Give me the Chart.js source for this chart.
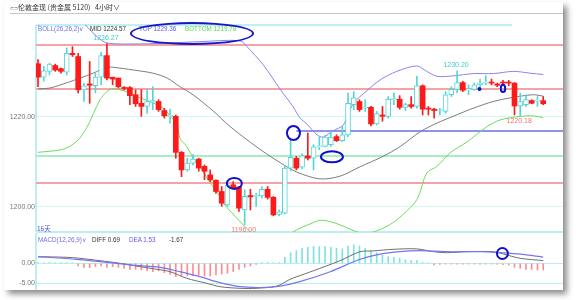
<!DOCTYPE html>
<html>
<head>
<meta charset="utf-8">
<script src="https://cdn.jsdelivr.net/npm/chart.js@4.4.0/dist/chart.umd.min.js"></script>
<style>
body{margin:0;background:#fff;width:576px;height:300px;overflow:hidden;position:relative;font-family:'Liberation Sans',Arial,sans-serif}
#frame{position:absolute;left:4px;top:2px;width:559px;height:288px;background:#fff;box-shadow:4px 4px 6px rgba(0,0,0,.45)}
#sep{position:absolute;left:10px;top:13px;width:553px;height:1px;background:#c8c8c8}
canvas{position:absolute;left:0;top:0}
.t{position:absolute;white-space:nowrap;font-size:6.3px;line-height:8px}
.cjk{font-family:'Noto Sans CJK SC','Liberation Sans',sans-serif;font-size:7px}
#oval{position:absolute;left:130px;top:22px;width:120px;height:19px;border:2px solid #1717c8;border-radius:50%}
</style>
</head>
<body>
<div id="frame"></div>
<div id="sep"></div>
<canvas id="price" width="576" height="300"></canvas>
<canvas id="macd" width="576" height="300"></canvas>

<span class="t" style="left:10px;top:4px;color:#555;font-size:5px">⊂⊃</span>
<span class="t cjk" style="left:18px;top:3px;color:#333">伦敦金现 (贵金属 5120)</span>
<span class="t cjk" style="left:95px;top:3px;color:#333">4小时∨</span>

<span class="t" style="left:38px;top:25px;color:#6f6fe6">BOLL(26,26,2)∨</span>
<span class="t" style="left:90px;top:25px;color:#333">MID 1224.57</span>
<span class="t" style="left:139px;top:25px;color:#5a5af0">TOP 1229.36</span>
<span class="t" style="left:185px;top:25px;color:#52d852">BOTTOM 1219.78</span>
<div id="oval"></div>

<span class="t cjk" style="left:37px;top:224px;color:#5050d0;font-size:6.5px">16天</span>

<span class="t" style="left:38px;top:236px;color:#6f6fe6">MACD(12,26,9)∨</span>
<span class="t" style="left:92px;top:236px;color:#333">DIFF 0.69</span>
<span class="t" style="left:129px;top:236px;color:#5a5af0">DEA 1.53</span>
<span class="t" style="left:169px;top:236px;color:#333">-1.67</span>

<script>
// candles, one per 4 hours
var opens  = [1231.8,1228.8,1230.1,1231.4,1230.7,1229.9,1234.1,1233.4,1226.0,1227.3,
              1226.9,1228.8,1233.6,1228.8,1228.6,1226.5,1226.5,1224.9,1223.0,1222.3,
              1223.3,1223.4,1221.4,1220.1,1220.1,1212.1,1208.2,1209.7,1210.6,1209.0,
              1207.1,1205.9,1203.4,1200.4,1204.9,1204.4,1199.3,1202.5,1202.3,1202.4,
              1203.9,1202.1,1198.3,1198.6,1208.6,1210.8,1208.8,1211.3,1210.8,1213.3,
              1213.4,1213.8,1215.6,1214.7,1216.0,1222.7,1223.4,1221.9,1222.1,1218.4,
              1220.4,1220.1,1223.8,1223.9,1222.1,1222.7,1222.3,1226.9,1221.9,1221.7,
              1221.4,1221.2,1224.9,1226.1,1227.6,1226.0,1226.1,1227.1,1227.5,1227.7,
              1227.3,1227.6,1227.6,1227.5,1222.4,1222.7,1223.6,1223.5,1223.6];
var highs  = [1232.7,1231.2,1231.9,1231.7,1230.8,1235.3,1235.6,1234.1,1227.5,1232.3,
              1229.7,1234.3,1236.27,1228.8,1228.6,1226.7,1226.7,1226.0,1226.0,1226.0,
              1226.7,1223.8,1221.9,1221.7,1220.4,1212.3,1210.8,1211.6,1210.8,1209.3,
              1208.2,1206.0,1204.5,1205.3,1205.6,1204.5,1203.8,1203.9,1203.0,1204.5,
              1204.5,1202.3,1199.3,1209.0,1215.0,1211.2,1211.8,1216.4,1213.8,1215.5,
              1215.8,1216.7,1216.0,1217.9,1225.3,1225.6,1223.8,1223.8,1222.3,1221.2,
              1222.3,1224.5,1225.3,1224.7,1223.0,1224.5,1229.0,1227.1,1222.3,1221.9,
              1221.9,1225.6,1226.7,1230.2,1227.9,1227.1,1227.5,1228.4,1229.1,1228.4,
              1227.5,1228.1,1228.1,1227.6,1225.3,1224.9,1223.8,1224.5,1224.5];
var lows   = [1226.7,1227.9,1229.3,1230.1,1229.7,1229.3,1233.4,1225.3,1223.4,1223.0,
              1225.3,1227.1,1228.2,1227.1,1226.4,1226.0,1222.7,1222.3,1220.1,1220.8,
              1221.6,1221.2,1219.7,1218.6,1210.8,1206.7,1207.9,1209.3,1207.9,1206.0,
              1205.6,1203.0,1200.1,1200.1,1204.0,1199.0,1196.0,1199.3,1200.1,1201.9,
              1201.7,1198.0,1198.0,1198.4,1208.0,1208.2,1208.4,1210.4,1208.2,1212.7,
              1213.3,1213.4,1214.5,1214.5,1215.6,1221.6,1221.2,1221.2,1218.0,1218.2,
              1219.0,1219.7,1222.7,1221.7,1221.4,1221.9,1221.9,1220.4,1220.4,1219.7,
              1220.4,1220.8,1224.5,1225.3,1225.6,1224.9,1225.9,1226.7,1227.1,1227.1,
              1226.7,1227.1,1226.9,1220.4,1220.18,1222.3,1222.9,1222.3,1222.7];
var closes = [1228.8,1230.2,1231.7,1230.4,1230.1,1234.1,1233.8,1226.0,1226.9,1227.0,
              1228.8,1233.6,1228.6,1228.4,1226.7,1226.3,1224.7,1222.9,1222.3,1223.4,
              1223.6,1221.6,1220.2,1220.2,1212.1,1208.2,1209.7,1210.6,1208.6,1207.9,
              1206.0,1203.4,1200.8,1204.9,1204.1,1199.7,1202.3,1202.2,1202.5,1203.9,
              1202.1,1198.2,1198.9,1208.6,1211.0,1208.6,1211.3,1210.8,1213.3,1213.4,
              1215.5,1215.5,1214.7,1216.0,1223.0,1224.2,1221.6,1222.1,1218.4,1220.7,
              1220.1,1223.9,1223.9,1222.1,1222.7,1222.3,1226.9,1221.7,1221.7,1221.4,
              1221.6,1224.9,1226.1,1227.6,1225.9,1226.1,1227.1,1227.5,1227.6,1227.5,
              1227.0,1227.5,1227.5,1222.4,1223.4,1223.8,1223.0,1223.6,1222.9];

// bollinger bands: [candle index, price]
var midLine = [[0,1226.2],[2.1,1226.4],[5.1,1227.6],[7.3,1228.6],[9.6,1229.7],[12,1231.0],[13.1,1231.0],
  [16.6,1230.4],[20,1229.7],[22.5,1228.6],[24.7,1226.7],[27,1224.9],[30.5,1221.3],[33.4,1217.9],
  [36.4,1214.9],[39.2,1212.3],[42.2,1209.8],[45.1,1207.7],[49.1,1206.2],[52.6,1206.8],[56.1,1208.9],
  [60.1,1211.2],[63.1,1213.4],[66.6,1216.7],[69.5,1218.6],[72.3,1220.1],[75.8,1221.9],[79.3,1223.4],
  [82.7,1224.3],[86.2,1224.9],[88,1224.6]];
var topLine = [[0,1240.3],[3,1242.0],[5.6,1242.7],[8.2,1240.4],[10.3,1237.8],[12,1236.4],[17.8,1236.2],
  [23,1236.4],[28.2,1236.7],[35.2,1236.9],[36.4,1235.6],[39.2,1231.6],[42.2,1226.1],[44.4,1222.3],
  [45.6,1219.8],[46.9,1218.3],[48.6,1216.0],[49.7,1215.5],[51.4,1216.9],[53.2,1218.2],[54.9,1222.9],
  [57.3,1225.8],[59.6,1228.2],[62.5,1230.1],[66,1231.3],[67.7,1230.1],[69.5,1229.0],[72.4,1229.1],
  [75.8,1229.6],[79.3,1229.6],[82.8,1230.1],[85.7,1229.7],[88,1229.4]];
var bottomLine = [[0,1212.1],[4.4,1212.8],[6.7,1214.5],[8.5,1217.6],[10.8,1223.8],[12,1225.6],[12.8,1226.2],
  [14.3,1226.0],[16,1225.3],[17.8,1224.2],[19.5,1223.4],[21.3,1222.3],[22.4,1221.2],[23,1220.1],
  [24.2,1218.6],[24.7,1215.3],[25.9,1213.4],[27.6,1209.7],[28.2,1208.9],[30,1205.3],[31.7,1202.3],
  [32.3,1200.8],[35.2,1196.7],[37.2,1194.2],[39.5,1192.2],[42.2,1192.7],[45.1,1194.9],[47.4,1196.2],
  [49.1,1197.0],[50.9,1196.7],[52.6,1196.0],[56.1,1194.2],[57.8,1194.2],[60.2,1195.3],[62.5,1197.1],
  [66,1201.6],[67.7,1207.5],[69.5,1209.0],[71.8,1212.0],[74.7,1214.4],[78.2,1217.8],[80.5,1219.3],
  [84,1220.1],[86.3,1220.2],[88,1219.8]];

// MACD(12,26,9)
var macdHist = [0.15,0.15,0.2,0.15,0.15,0.2,0.15,-0.67,-1.0,-1.08,
                -0.83,-0.67,-1.0,-0.83,-1.0,-1.25,-1.5,-1.5,-1.67,-1.83,
                -2.08,-1.83,-2.33,-2.75,-3.33,-3.17,-3.17,-3.17,-2.92,-3.17,
                -3.17,-2.92,-2.67,-2.5,-2.08,-1.5,-1.0,-0.67,-0.25,0.17,
                0.25,0.17,0.17,1.5,2.67,3.17,3.75,4.0,4.17,4.17,
                4.17,4.0,3.75,3.58,4.33,4.58,4.33,3.75,3.17,2.67,
                2.08,1.67,1.5,1.25,0.83,0.67,0.67,0.25,0.1,-0.42,
                -0.25,-0.2,-0.2,-0.2,-0.2,-0.2,-0.2,-0.2,-0.2,-0.2,
                -0.25,-0.33,-0.42,-1.0,-1.25,-1.5,-1.5,-1.67,-1.67];
var diffLine = [[0,1.65],[5,1.5],[7.3,1.25],[10.8,0.65],[14.3,0],[17.8,-0.85],[20.7,-1.5],[23,-2.1],
  [25.9,-3.75],[29.4,-5.0],[31.7,-5.85],[35.2,-6.25],[38,-6.25],[41.6,-5.7],[43.9,-4.0],[45.1,-3.35],
  [48,-1.85],[52.6,0.65],[56.1,2.9],[58.4,3.1],[61.9,3.5],[66,3.6],[68.9,2.9],[71.2,2.65],[74.7,2.9],
  [79.3,2.9],[81.1,2.3],[84,1.25],[88,0.69]];
var deaLine = [[0,1.65],[6.7,1.0],[10.8,0.4],[16.6,-0.45],[21.3,-1.0],[24.7,-2.1],[28.2,-3.35],[31.7,-4.85],
  [35.2,-5.85],[38.7,-6.05],[42.2,-5.7],[45.6,-4.6],[50.9,-2.1],[56.1,1.0],[59.6,2.3],[63.1,2.9],
  [66.6,3.15],[71.2,2.9],[77,2.9],[80.5,2.65],[84,2.3],[88,1.53]];

// horizontal levels drawn on the price panel
var levelPrices = [1236.0, 1226.2, 1216.9, 1211.4, 1205.4];
var levelStarts = [null, null, 45, null, null];
var levelColors = ['#f4a4a4', '#f4a4a4', '#6c6ce6', '#a4f0c4', '#f4a4a4'];
var levelWidths = [2, 2, 1.5, 2, 2];

var markHigh = [12, 73];
var markLow = [36, 84];

var RED = '#ff1a1a';
var CYAN = '#55d6d6';
var FONT = "'Liberation Sans', Arial, sans-serif";

var idx = opens.map(function(_, i){ return i; });
var up = idx.map(function(i){ return closes[i] >= opens[i]; });
function pts(arr){ return arr.map(function(p){ return {x: p[0], y: p[1]}; }); }

var xMin = -0.35, xMax = 91.45;

var priceMarks = {
  id: 'priceMarks',
  beforeDatasetsDraw: function(chart){
    var ctx = chart.ctx, a = chart.chartArea, x = chart.scales.x, y = chart.scales.y;
    ctx.save();
    // panel borders
    ctx.strokeStyle = '#c0eff4'; ctx.lineWidth = 2;
    ctx.beginPath(); ctx.moveTo(a.left, a.top); ctx.lineTo(512, a.top); ctx.stroke();
    ctx.strokeStyle = '#a6e9ee'; ctx.lineWidth = 1.5;
    ctx.beginPath(); ctx.moveTo(a.left, a.bottom); ctx.lineTo(a.right, a.bottom); ctx.stroke();
    ctx.beginPath(); ctx.moveTo(a.left, a.top); ctx.lineTo(a.left, a.bottom); ctx.stroke();
    levelPrices.forEach(function(p, k){
      var py = Math.round(y.getPixelForValue(p));
      var sx = levelStarts[k] == null ? a.left : x.getPixelForValue(levelStarts[k]);
      ctx.strokeStyle = levelColors[k]; ctx.lineWidth = levelWidths[k];
      ctx.beginPath(); ctx.moveTo(sx, py); ctx.lineTo(a.right, py); ctx.stroke();
    });
    ctx.restore();
  },
  afterDatasetsDraw: function(chart){
    var ctx = chart.ctx, x = chart.scales.x, y = chart.scales.y;
    ctx.save();
    ctx.font = '7px ' + FONT;
    ctx.textAlign = 'center';
    ctx.fillStyle = '#44cccc'; ctx.textBaseline = 'bottom';
    markHigh.forEach(function(i){
      ctx.fillText(highs[i].toFixed(2), x.getPixelForValue(i) - 1, y.getPixelForValue(highs[i]) - 2);
    });
    ctx.fillStyle = '#ff7070'; ctx.textBaseline = 'top';
    markLow.forEach(function(i){
      ctx.fillText(lows[i].toFixed(2), x.getPixelForValue(i) - 1, y.getPixelForValue(lows[i]) + 2);
    });
    // hand drawn marks
    ctx.strokeStyle = '#1010c8'; ctx.lineWidth = 2;
    [[34.2, 1205.2, 7.5, 5.5], [44.5, 1216.4, 6.5, 7], [51.2, 1211.1, 11, 5.5], [81.0, 1226.3, 2.2, 3.6]].forEach(function(e){
      ctx.beginPath();
      ctx.ellipse(x.getPixelForValue(e[0]), y.getPixelForValue(e[1]), e[2], e[3], 0, 0, Math.PI * 2);
      ctx.stroke();
    });
    ctx.fillStyle = '#1010c8';
    ctx.beginPath(); ctx.arc(x.getPixelForValue(76.9), y.getPixelForValue(1226.2), 2, 0, Math.PI * 2); ctx.fill();
    ctx.restore();
  }
};

new Chart(document.getElementById('price'), {
  type: 'bar',
  data: {
    datasets: [
      { type: 'bar', data: idx.map(function(i){ return {x: i, y: [opens[i], closes[i]]}; }),
        backgroundColor: idx.map(function(i){ return up[i] ? '#fff' : RED; }),
        borderColor: idx.map(function(i){ return up[i] ? CYAN : RED; }),
        borderWidth: idx.map(function(i){ return up[i] ? 1 : 0; }),
        borderSkipped: false, barThickness: 5, minBarLength: 1, grouped: false, order: 0 },
      { type: 'bar', data: idx.map(function(i){ return {x: i, y: [lows[i], highs[i]]}; }),
        backgroundColor: idx.map(function(i){ return up[i] ? CYAN : RED; }),
        barThickness: 1, grouped: false, order: 1 },
      { type: 'line', data: pts(midLine), borderColor: '#7c7c7c', borderWidth: 1, pointRadius: 0, tension: 0.3, order: 2 },
      { type: 'line', data: pts(topLine), borderColor: '#8585ee', borderWidth: 1, pointRadius: 0, tension: 0.3, order: 2 },
      { type: 'line', data: pts(bottomLine), borderColor: '#6cdc5c', borderWidth: 1, pointRadius: 0, tension: 0.3, order: 2 }
    ]
  },
  options: {
    responsive: false, animation: false,
    layout: { padding: { left: 0, top: 25, right: 13, bottom: 68 } },
    plugins: { legend: { display: false }, tooltip: { enabled: false } },
    scales: {
      x: { type: 'linear', display: false, offset: false, min: xMin, max: xMax },
      y: { min: 1194.4, max: 1240.4,
        afterFit: function(s){ s.width = 36; },
        afterBuildTicks: function(s){ s.ticks = [{value: 1200}, {value: 1220}]; },
        ticks: { callback: function(v){ return v.toFixed(2); }, color: '#777', font: { size: 7, family: FONT }, padding: 1 },
        grid: { color: '#d4f7f7', drawTicks: false },
        border: { display: false } }
    }
  },
  plugins: [priceMarks]
});

var macdMarks = {
  id: 'macdMarks',
  beforeDatasetsDraw: function(chart){
    var ctx = chart.ctx, a = chart.chartArea;
    ctx.save();
    ctx.strokeStyle = '#a6e9ee'; ctx.lineWidth = 1.5;
    ctx.beginPath(); ctx.moveTo(a.left, a.top); ctx.lineTo(a.left, a.bottom); ctx.stroke();
    ctx.restore();
  },
  afterDatasetsDraw: function(chart){
    var ctx = chart.ctx, x = chart.scales.x, y = chart.scales.y;
    ctx.save();
    ctx.strokeStyle = '#1010c8'; ctx.lineWidth = 2;
    ctx.beginPath();
    ctx.ellipse(x.getPixelForValue(80.9), y.getPixelForValue(2.45), 5.5, 5.5, 0, 0, Math.PI * 2);
    ctx.stroke();
    ctx.restore();
  }
};

new Chart(document.getElementById('macd'), {
  type: 'bar',
  data: {
    datasets: [
      { type: 'bar', data: idx.map(function(i){ return {x: i, y: macdHist[i]}; }),
        backgroundColor: idx.map(function(i){ return macdHist[i] >= 0 ? '#80e2e2' : '#ff8c8c'; }),
        barThickness: 1, grouped: false, order: 2 },
      { type: 'line', data: pts(diffLine), borderColor: '#6e6e6e', borderWidth: 1, pointRadius: 0, tension: 0.3, order: 1 },
      { type: 'line', data: pts(deaLine), borderColor: '#7676ee', borderWidth: 1.2, pointRadius: 0, tension: 0.3, order: 0 }
    ]
  },
  options: {
    responsive: false, animation: false,
    layout: { padding: { left: 0, top: 233, right: 13, bottom: 10 } },
    plugins: { legend: { display: false }, tooltip: { enabled: false } },
    scales: {
      x: { type: 'linear', display: false, offset: false, min: xMin, max: xMax },
      y: { min: -6.675, max: 7.575,
        afterFit: function(s){ s.width = 36; },
        afterBuildTicks: function(s){ s.ticks = [{value: -5}, {value: 0}]; },
        ticks: { callback: function(v){ return v.toFixed(2); }, color: '#777', font: { size: 7, family: FONT }, padding: 1 },
        grid: { color: '#b8eff2', drawTicks: false },
        border: { display: false } }
    }
  },
  plugins: [macdMarks]
});
</script>
</body>
</html>
